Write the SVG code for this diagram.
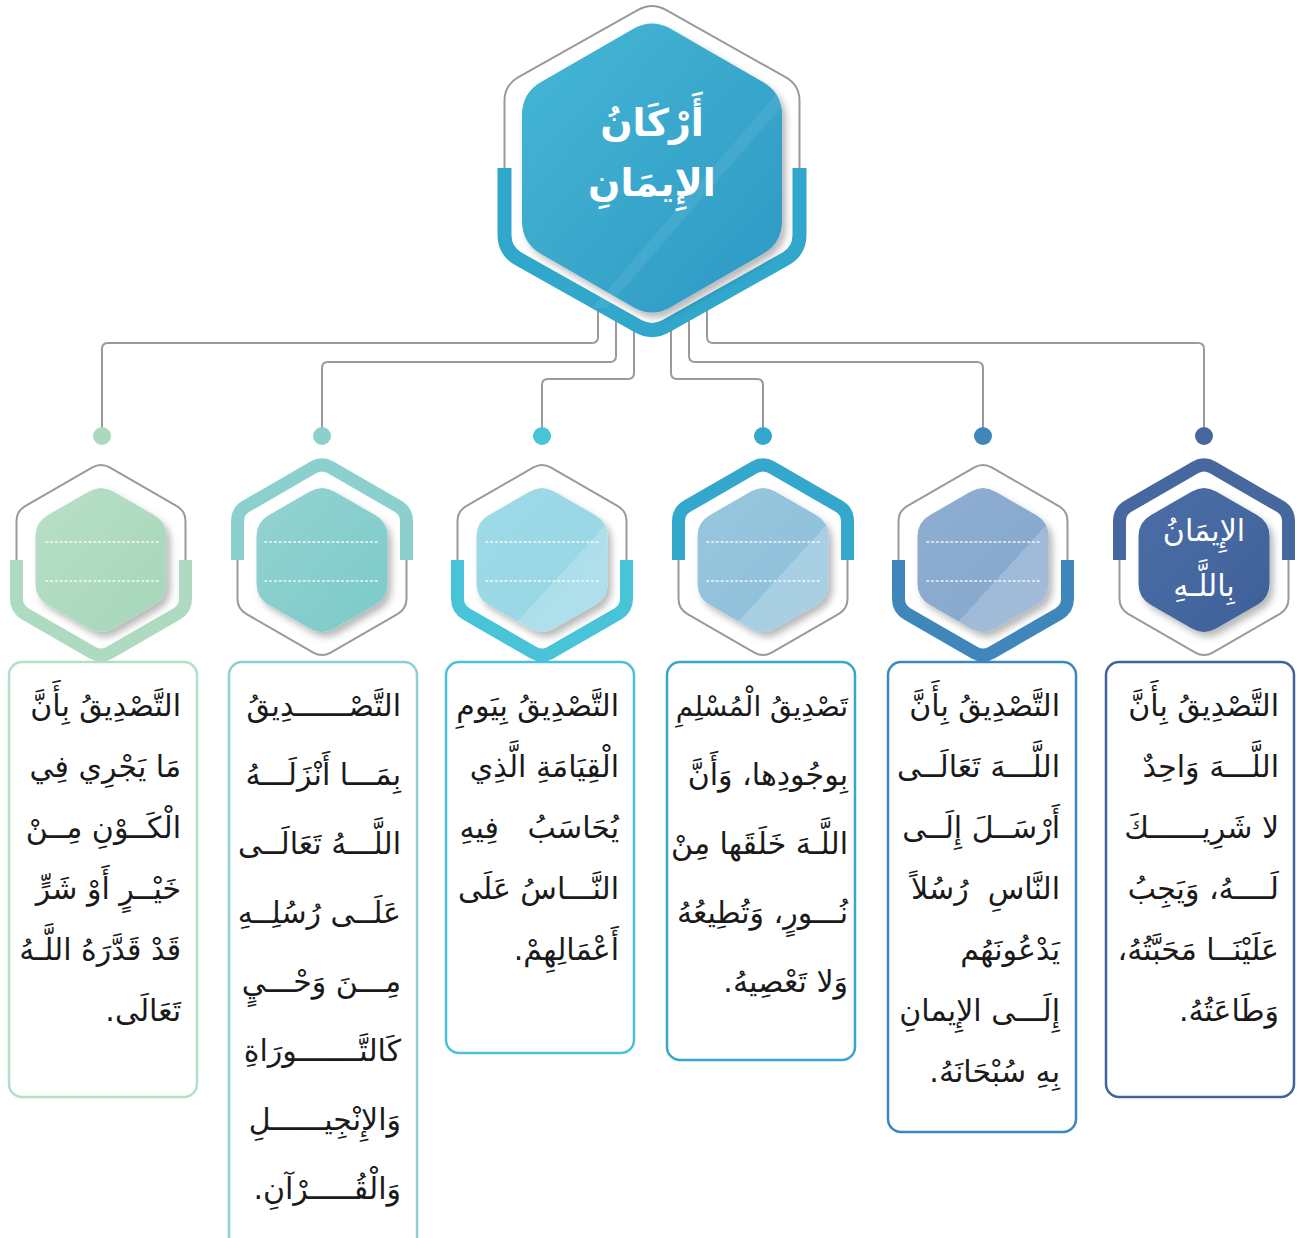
<svg xmlns="http://www.w3.org/2000/svg" xmlns:xlink="http://www.w3.org/1999/xlink" width="1298" height="1238" viewBox="0 0 1298 1238">
<style>
.conn{fill:none;stroke:#9a9a9a;stroke-width:2}
.ol{fill:#fff;stroke:#9a9a9a;stroke-width:2}
.band{fill:none;stroke-width:13;stroke-linejoin:round}
.dots{stroke:#fff;stroke-width:1.6;stroke-dasharray:1.6 3.2;stroke-linecap:round;opacity:.9}
.box{fill:#fff;stroke-width:2.5}
.t{font-family:"DejaVu Sans",sans-serif;font-size:30px;fill:#1a1a1a;direction:rtl;text-anchor:start}
.ht{font-family:"DejaVu Sans",sans-serif;fill:#fff;text-anchor:middle}
</style>
<defs>
<path id="hexO" d="M -8.66,-92.6 Q 0,-97.6 8.66,-92.6 L 75.84,-53.8 Q 84.5,-48.8 84.5,-38.8 L 84.5,38.8 Q 84.5,48.8 75.84,53.8 L 8.66,92.6 Q 0,97.6 -8.66,92.6 L -75.84,53.8 Q -84.5,48.8 -84.5,38.8 L -84.5,-38.8 Q -84.5,-48.8 -75.84,-53.8 Z"/>
<path id="bandB" d="M -84.5,0 L -84.5,38.8 Q -84.5,48.8 -75.84,53.8 L -8.66,92.6 Q 0,97.6 8.66,92.6 L 75.84,53.8 Q 84.5,48.8 84.5,38.8 L 84.5,0"/>
<path id="bandT" d="M -84.5,0 L -84.5,-38.8 Q -84.5,-48.8 -75.84,-53.8 L -8.66,-92.6 Q 0,-97.6 8.66,-92.6 L 75.84,-53.8 Q 84.5,-48.8 84.5,-38.8 L 84.5,0"/>
<path id="hexI" d="M -12.12,-68.6 Q 0,-75.6 12.12,-68.6 L 53.38,-44.8 Q 65.5,-37.8 65.5,-23.8 L 65.5,23.8 Q 65.5,37.8 53.38,44.8 L 12.12,68.6 Q 0,75.6 -12.12,68.6 L -53.38,44.8 Q -65.5,37.8 -65.5,23.8 L -65.5,-23.8 Q -65.5,-37.8 -53.38,-44.8 Z"/>
<path id="bigO" d="M -13.95,-158.15 Q 0,-166 13.95,-158.15 L 133.55,-90.85 Q 147.5,-83 147.5,-67 L 147.5,67 Q 147.5,83 133.55,90.85 L 13.95,158.15 Q 0,166 -13.95,158.15 L -133.55,90.85 Q -147.5,83 -147.5,67 L -147.5,-67 Q -147.5,-83 -133.55,-90.85 Z"/>
<path id="bigB" d="M -147.5,0 L -147.5,67 Q -147.5,83 -133.55,90.85 L -13.95,158.15 Q 0,166 13.95,158.15 L 133.55,90.85 Q 147.5,83 147.5,67 L 147.5,0"/>
<path id="bigI" d="M -19.05,-139 Q 0,-150 19.05,-139 L 110.95,-86 Q 130,-75 130,-53 L 130,53 Q 130,75 110.95,86 L 19.05,139 Q 0,150 -19.05,139 L -110.95,86 Q -130,75 -130,53 L -130,-53 Q -130,-75 -110.95,-86 Z"/>
<filter id="sh" x="-20%" y="-20%" width="150%" height="150%">
<feDropShadow dx="4" dy="5" stdDeviation="3.5" flood-color="#000" flood-opacity="0.28"/>
</filter>
<linearGradient id="gloss" x1="0" y1="0" x2="1" y2="1">
<stop offset="0" stop-color="#fff" stop-opacity="0"/>
<stop offset="0.62" stop-color="#fff" stop-opacity="0"/>
<stop offset="0.62" stop-color="#fff" stop-opacity="0.2"/>
<stop offset="1" stop-color="#fff" stop-opacity="0.25"/>
</linearGradient>
<linearGradient id="gTop" x1="0" y1="0" x2="1" y2="1">
<stop offset="0" stop-color="#46b7d5"/>
<stop offset="1" stop-color="#2d98c4"/>
</linearGradient>
<linearGradient id="g1" x1="0" y1="0" x2="1" y2="1"><stop offset="0" stop-color="#b8e0c7"/><stop offset="1" stop-color="#a6d6b9"/></linearGradient>
<linearGradient id="g2" x1="0" y1="0" x2="1" y2="1"><stop offset="0" stop-color="#93d3d0"/><stop offset="1" stop-color="#7ccaca"/></linearGradient>
<linearGradient id="g3" x1="0" y1="0" x2="1" y2="1"><stop offset="0" stop-color="#9fdbe8"/><stop offset="1" stop-color="#95d5e4"/></linearGradient>
<linearGradient id="g4" x1="0" y1="0" x2="1" y2="1"><stop offset="0" stop-color="#98c6de"/><stop offset="1" stop-color="#8ec0da"/></linearGradient>
<linearGradient id="g5" x1="0" y1="0" x2="1" y2="1"><stop offset="0" stop-color="#8eaed1"/><stop offset="1" stop-color="#84a7cd"/></linearGradient>
<linearGradient id="g6" x1="0" y1="0" x2="1" y2="1"><stop offset="0" stop-color="#4b6ea6"/><stop offset="1" stop-color="#3f6099"/></linearGradient>
</defs>
<rect width="1298" height="1238" fill="#fff"/>

<g id="connectors">
<path class="conn" d="M 598,300 V 337 Q 598,343 592,343 H 108 Q 102,343 102,349 V 436"/>
<path class="conn" d="M 616,300 V 356 Q 616,362 610,362 H 328 Q 322,362 322,368 V 436"/>
<path class="conn" d="M 634,300 V 373 Q 634,379 628,379 H 548 Q 542,379 542,385 V 436"/>
<path class="conn" d="M 671,300 V 373 Q 671,379 677,379 H 757 Q 763,379 763,385 V 436"/>
<path class="conn" d="M 689,300 V 356 Q 689,362 695,362 H 977 Q 983,362 983,368 V 436"/>
<path class="conn" d="M 707,300 V 337 Q 707,343 713,343 H 1198 Q 1204,343 1204,349 V 436"/>
<circle cx="102" cy="436" r="9" fill="#acd9be"/>
<circle cx="322" cy="436" r="9" fill="#8bd0cd"/>
<circle cx="542" cy="436" r="9" fill="#48c3d7"/>
<circle cx="763" cy="436" r="9" fill="#33a7cc"/>
<circle cx="983" cy="436" r="9" fill="#3f87bb"/>
<circle cx="1204" cy="436" r="9" fill="#46689f"/>
</g>

<g id="root" transform="translate(652,168)">
<use xlink:href="#bigO" class="ol"/>
<use xlink:href="#bigB" class="band" stroke="#32a7cc" style="stroke-width:14"/>
<use xlink:href="#bigI" fill="url(#gTop)" filter="url(#sh)"/>
<path d="M -60,140 L 125,-75 L 130,-62 L -45,140 Z" fill="#fff" opacity="0.07"/>
<text class="ht" x="0" y="-32" font-size="38" font-weight="bold">أَرْكَانُ</text>
<text class="ht" x="0" y="28" font-size="38" font-weight="bold">الإِيمَانِ</text>
</g>

<g id="node1" transform="translate(101,560)">
<use xlink:href="#hexO" class="ol"/>
<use xlink:href="#bandB" class="band" stroke="#aedabf"/>
<use xlink:href="#hexI" fill="url(#g1)" filter="url(#sh)"/>
<line class="dots" x1="-55" y1="-18" x2="57" y2="-18"/>
<line class="dots" x1="-55" y1="21" x2="57" y2="21"/>
</g>
<g id="node2" transform="translate(322,560)">
<use xlink:href="#hexO" class="ol"/>
<use xlink:href="#bandT" class="band" stroke="#8bd0cd"/>
<use xlink:href="#hexI" fill="url(#g2)" filter="url(#sh)"/>
<line class="dots" x1="-57" y1="-18" x2="55" y2="-18"/>
<line class="dots" x1="-57" y1="21" x2="55" y2="21"/>
</g>
<g id="node3" transform="translate(542,560)">
<use xlink:href="#hexO" class="ol"/>
<use xlink:href="#bandB" class="band" stroke="#48c3d7"/>
<use xlink:href="#hexI" fill="url(#g3)" filter="url(#sh)"/>
<use xlink:href="#hexI" fill="url(#gloss)"/>
<line class="dots" x1="-56" y1="-18" x2="56" y2="-18"/>
<line class="dots" x1="-56" y1="21" x2="56" y2="21"/>
</g>
<g id="node4" transform="translate(763,560)">
<use xlink:href="#hexO" class="ol"/>
<use xlink:href="#bandT" class="band" stroke="#33a7cc"/>
<use xlink:href="#hexI" fill="url(#g4)" filter="url(#sh)"/>
<use xlink:href="#hexI" fill="url(#gloss)"/>
<line class="dots" x1="-56" y1="-18" x2="56" y2="-18"/>
<line class="dots" x1="-56" y1="21" x2="56" y2="21"/>
</g>
<g id="node5" transform="translate(983,560)">
<use xlink:href="#hexO" class="ol"/>
<use xlink:href="#bandB" class="band" stroke="#3f87bb"/>
<use xlink:href="#hexI" fill="url(#g5)" filter="url(#sh)"/>
<use xlink:href="#hexI" fill="url(#gloss)"/>
<line class="dots" x1="-56" y1="-18" x2="56" y2="-18"/>
<line class="dots" x1="-56" y1="21" x2="56" y2="21"/>
</g>
<g id="node6" transform="translate(1204,560)">
<use xlink:href="#hexO" class="ol"/>
<use xlink:href="#bandT" class="band" stroke="#46689f"/>
<use xlink:href="#hexI" fill="url(#g6)" filter="url(#sh)"/>
<text class="ht" x="0" y="-19" font-size="30">الإِيمَانُ</text>
<text class="ht" x="0" y="36" font-size="30">بِاللَّـهِ</text>
</g>

<g id="box1">
<rect class="box" x="9" y="662" width="188" height="435" rx="13" stroke="#b3dfc4"/>
<text class="t" x="181" y="716">التَّصْدِيقُ بِأَنَّ</text>
<text class="t" x="181" y="777">مَا يَجْرِي فِي</text>
<text class="t" x="181" y="838">الْكَــوْنِ مِــنْ</text>
<text class="t" x="181" y="899">خَيْــرٍ أَوْ شَرٍّ</text>
<text class="t" x="181" y="960">قَدْ قَدَّرَهُ اللَّـهُ</text>
<text class="t" x="181" y="1021">تَعَالَى.</text>
</g>
<g id="box2">
<rect class="box" x="229" y="662" width="188" height="590" rx="13" stroke="#8fcfd4"/>
<text class="t" x="401" y="716">التَّصْــــــدِيقُ</text>
<text class="t" x="401" y="785">بِمَـــا أَنْزَلَـــهُ</text>
<text class="t" x="401" y="854">اللَّـــهُ تَعَالَــى</text>
<text class="t" x="401" y="923">عَلَــى رُسُلِــهِ</text>
<text class="t" x="401" y="992">مِـــنَ وَحْـــيٍ</text>
<text class="t" x="401" y="1061">كَالتَّـــــــورَاةِ</text>
<text class="t" x="401" y="1130">وَالإِنْجِيــــــلِ</text>
<text class="t" x="401" y="1199">وَالْقُـــــرْآنِ.</text>
</g>
<g id="box3">
<rect class="box" x="446" y="662" width="188" height="391" rx="13" stroke="#4cc0da"/>
<text class="t" x="619" y="716">التَّصْدِيقُ بِيَومِ</text>
<text class="t" x="619" y="777">الْقِيَامَةِ الَّذِي</text>
<text class="t" x="619" y="838">يُحَاسَبُ&#160;&#160; فِيهِ</text>
<text class="t" x="619" y="899">النَّـــاسُ عَلَى</text>
<text class="t" x="619" y="960">أَعْمَالِهِمْ.</text>
</g>
<g id="box4">
<rect class="box" x="667" y="662" width="188" height="398" rx="13" stroke="#38a5cc"/>
<text class="t" x="848" y="716" style="font-size:28px">تَصْدِيقُ الْمُسْلِمِ</text>
<text class="t" x="848" y="785">بِوجُودِها، وَأَنَّ</text>
<text class="t" x="848" y="854">اللَّـهَ خَلَقَها مِنْ</text>
<text class="t" x="848" y="923">نُـــورٍ، وَتُطِيعُهُ</text>
<text class="t" x="848" y="992">وَلا تَعْصِيهُ.</text>
</g>
<g id="box5">
<rect class="box" x="888" y="662" width="188" height="470" rx="13" stroke="#3d87c0"/>
<text class="t" x="1060" y="716">التَّصْدِيقُ بِأَنَّ</text>
<text class="t" x="1060" y="777">اللَّـــهَ تَعَالَــى</text>
<text class="t" x="1060" y="838">أَرْسَــلَ إِلَــى</text>
<text class="t" x="1060" y="899">النَّاسِ&#160; رُسُلاً</text>
<text class="t" x="1060" y="960">يَدْعُونَهُم</text>
<text class="t" x="1060" y="1021">إِلَـــى الإِيمانِ</text>
<text class="t" x="1060" y="1082">بِهِ سُبْحَانَهُ.</text>
</g>
<g id="box6">
<rect class="box" x="1106" y="662" width="188" height="435" rx="13" stroke="#4460a0"/>
<text class="t" x="1279" y="716">التَّصْدِيقُ بِأَنَّ</text>
<text class="t" x="1279" y="777">اللَّـــهَ وَاحِدٌ</text>
<text class="t" x="1279" y="838">لا شَرِيــــــكَ</text>
<text class="t" x="1279" y="899">لَــــهُ، وَيَجِبُ</text>
<text class="t" x="1279" y="960">عَلَيْنَــا مَحَبَّتُهُ،</text>
<text class="t" x="1279" y="1021">وَطَاعَتُهُ.</text>
</g>
</svg>
